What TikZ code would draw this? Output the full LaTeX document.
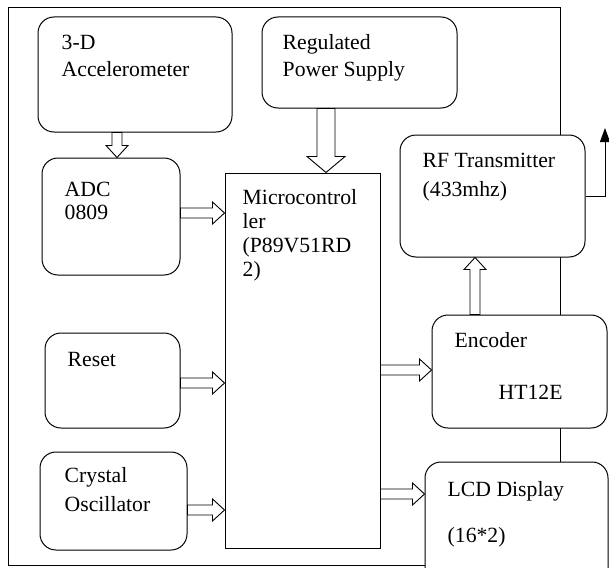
\documentclass[tikz,border=0pt]{standalone}
\usepackage{fontspec}
\setmainfont{Liberation Serif}
\usetikzlibrary{arrows.meta,calc}

\begin{document}
\begin{tikzpicture}[x=1pt,y=-1pt,
  blk/.style={draw,fill=white,line width=1pt,rounded corners=16pt,inner sep=0pt},
  mcubox/.style={draw,fill=white,line width=1pt,inner sep=0pt},
  txt/.style={anchor=base west,align=left,inner sep=0pt,
              font=\fontsize{21.7}{27}\selectfont},
  fatsize/.code args={#1/#2/#3}{\def\fsw{#1}\def\fhw{#2}\def\fhl{#3}},
  fatsize=5pt/11pt/12pt,
  fat/.style={draw,fill=white,line width=0.9pt,
    to path={let \p1=(\tikztostart),\p2=(\tikztotarget),
      \n1={atan2(\y2-\y1,\x2-\x1)},\n2={veclen(\x2-\x1,\y2-\y1)} in
      [shift={(\p1)},rotate=\n1]
      (0pt,-\fsw) -- (\n2-\fhl,-\fsw) -- (\n2-\fhl,-\fhw) -- (\n2,0pt)
      -- (\n2-\fhl,\fhw) -- (\n2-\fhl,\fsw) -- (0pt,\fsw) -- cycle}}]
  \useasboundingbox (0,0) rectangle (609,567);
  % outer frame
  \draw[line width=0.8pt] (8,7) rectangle (560,565);
  % blocks
  \node[blk,minimum width=194pt,minimum height=115pt] (acc) at (135,74.5) {};
  \node[blk,minimum width=195pt,minimum height=91pt] (psu) at (359.5,62.5) {};
  \node[blk,minimum width=138pt,minimum height=117pt] (adc) at (111,216.5) {};
  \node[mcubox,minimum width=155pt,minimum height=375pt] (mcu) at (302.5,360.5) {};
  \node[blk,minimum width=185pt,minimum height=122pt] (rf) at (492.5,196) {};
  \node[blk,minimum width=175pt,minimum height=113pt] (enc) at (519.5,371.5) {};
  \node[blk,minimum width=183pt,minimum height=125pt] (lcd) at (516.5,524.5) {};
  \node[blk,minimum width=135pt,minimum height=95pt] (rst) at (112.5,380.5) {};
  \node[blk,minimum width=147pt,minimum height=98pt] (xtal) at (113.5,501) {};
  % labels (anchored at the baseline of the last line)
  \node[txt] (acct) at ([shift={(24,60)}]acc.north west) {3-D\\Accelerometer};
  \node[txt] (psut) at ([shift={(21,60)}]psu.north west) {Regulated\\Power Supply};
  \node[txt,font=\fontsize{21.7}{23}\selectfont] (adct) at ([shift={(23,62)}]adc.north west) {ADC\\0809};
  \node[txt,font=\fontsize{21.7}{24}\selectfont] (mcut) at ([shift={(18,104)}]mcu.north west)
       {Microcontrol\\ler\\(P89V51RD\\2)};
  \node[txt,font=\fontsize{21.7}{29}\selectfont] (rft) at ([shift={(23,62)}]rf.north west) {RF Transmitter\\(433mhz)};
  \node[txt] (enct) at ([shift={(23,85)}]enc.north west) {Encoder\\[25pt]\hspace*{44pt}HT12E};
  \node[txt] (lcdt) at ([shift={(23,81)}]lcd.north west) {LCD Display\\[19pt](16*2)};
  \node[txt] (rstt) at ([shift={(23,34)}]rst.north west) {Reset};
  \node[txt,font=\fontsize{21.7}{29}\selectfont] (xtalt) at ([shift={(25,60)}]xtal.north west) {Crystal\\Oscillator};
  % block arrows
  \coordinate (accout) at ([xshift=-18pt]acc.south);
  \coordinate (psuout) at ([xshift=-33.5pt]psu.south);
  \coordinate (adcout) at ([yshift=3.5pt]adc.east);
  \coordinate (rstout) at ([yshift=-2.5pt]rst.east);
  \coordinate (xtalout) at ([yshift=-9pt]xtal.east);
  \coordinate (encin) at ([yshift=1.5pt]enc.west);
  \coordinate (lcdin) at ([yshift=30.5pt]lcd.west);
  \coordinate (encout) at ([xshift=-44.5pt]enc.north);
  \draw[fat] (accout) to (accout |- adc.north);
  \draw[fat,fatsize=9pt/19pt/16pt] (psuout) to (psuout |- mcu.north);
  \draw[fat] (adcout) to (adcout -| mcu.west);
  \draw[fat] (rstout) to (rstout -| mcu.west);
  \draw[fat] (xtalout) to (xtalout -| mcu.west);
  \draw[fat] (encin -| mcu.east) to (encin);
  \draw[fat] (lcdin -| mcu.east) to (lcdin);
  \draw[fat] (encout) to (encout |- rf.south);
  % antenna
  \coordinate (ant) at (605,128);
  \draw[line width=1pt,-{Triangle[length=14pt,width=10pt]}] (rf.east) -| (ant);
\end{tikzpicture}
\end{document}
